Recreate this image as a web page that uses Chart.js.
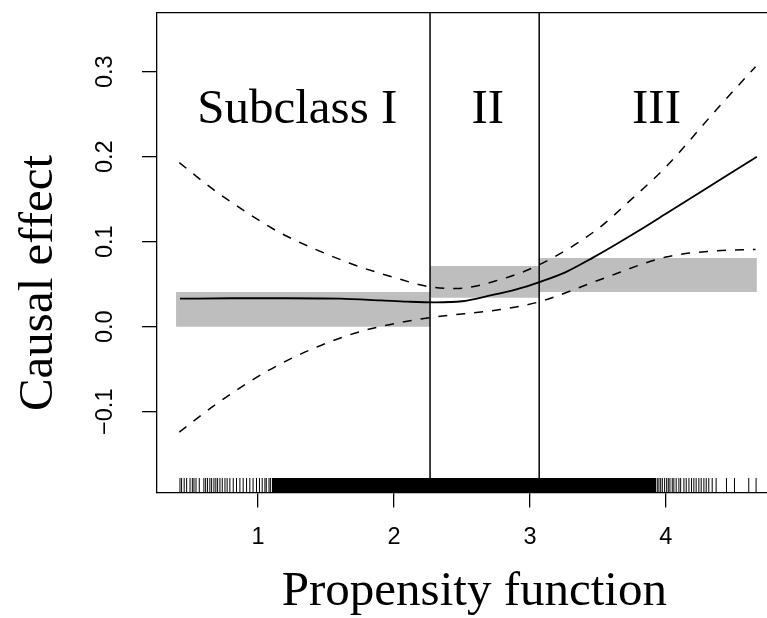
<!DOCTYPE html>
<html>
<head>
<meta charset="utf-8">
<script src="https://cdn.jsdelivr.net/npm/chart.js@4/dist/chart.umd.min.js"></script>
<style>
  html, body { margin: 0; padding: 0; background: #fff; overflow: hidden; }
  #wrap { width: 800px; height: 618px; }
</style>
</head>
<body>
<div id="wrap"><canvas id="chart" width="800" height="618"></canvas></div>
<script>
// axis ticks
const xTicks = [1, 2, 3, 4];
const yTicks = [-0.1, 0, 0.1, 0.2, 0.3];
const yTickLabels = ['\u22120.1', '0.0', '0.1', '0.2', '0.3'];

// fitted causal effect curve
const fitX = [0.425, 0.8, 1.2, 1.6, 1.9, 2.1, 2.3, 2.5, 2.7, 2.9, 3.07, 3.26, 3.46, 3.8, 4.0, 4.3, 4.67];
const fitY = [0.033, 0.0335, 0.0335, 0.033, 0.031, 0.0295, 0.0287, 0.030, 0.0365, 0.044, 0.0526, 0.064, 0.081, 0.113, 0.133, 0.163, 0.200];

// upper / lower confidence bounds (dashed)
const upperX = [0.42, 0.7, 1.08, 1.18, 1.67, 2.0, 2.26, 2.46, 2.77, 3.07, 3.49, 3.74, 4.0, 4.37, 4.66];
const upperY = [0.193, 0.158, 0.118, 0.109, 0.075, 0.058, 0.047, 0.045, 0.055, 0.073, 0.114, 0.149, 0.188, 0.255, 0.306];
const lowerX = [0.42, 0.7, 1.08, 1.43, 1.79, 2.26, 2.77, 3.07, 3.51, 4.0, 4.35, 4.66];
const lowerY = [-0.124, -0.09, -0.051, -0.024, -0.004, 0.0106, 0.020, 0.0294, 0.055, 0.082, 0.089, 0.091];

// subclass boundaries and within-subclass effect bands (grey)
const cutPoints = [2.265, 3.068];
const bandStart = [0.396, 2.265, 3.068];
const bandEnd = [2.265, 3.068, 4.67];
const bandLow = [0.0, 0.034, 0.041];
const bandHigh = [0.041, 0.0714, 0.081];

const regionLabels = ['Subclass I', 'II', 'III'];
const regionLabelX = [1.288, 2.690, 3.931];
const regionLabelY = 0.2396;

// rug of propensity values
const rugTicks = [0.425, 0.437, 0.456, 0.474, 0.499, 0.516, 0.528, 0.543, 0.567, 0.601, 0.614, 0.628,
  0.645, 0.658, 0.675, 0.689, 0.702, 0.719, 0.736, 0.756, 0.772, 0.792, 0.817, 0.841, 0.866, 0.890,
  0.915, 0.939, 0.963, 0.988, 1.01, 1.03, 1.05, 1.06, 1.08, 1.09,
  3.937, 3.949, 3.962, 3.974, 3.991, 4.006, 4.018, 4.030, 4.047, 4.059, 4.076, 4.096, 4.109, 4.133,
  4.150, 4.170, 4.189, 4.206, 4.223, 4.243, 4.260, 4.280, 4.297, 4.316, 4.341, 4.370, 4.446, 4.505,
  4.610, 4.664];
const rugDense = [1.10, 3.93];

const yMin = -0.195, yMax = 0.3697;
const xMin = 0.256, xMax = 4.926;
const rugTop = -0.178;

const pts = (xs, ys) => xs.map((x, i) => ({ x, y: ys[i] }));

const regionText = {
  id: 'regionText',
  afterDatasetsDraw(chart) {
    const { ctx, scales: { x, y } } = chart;
    ctx.save();
    ctx.fillStyle = '#000';
    ctx.font = '49px "Liberation Serif"';
    ctx.textAlign = 'center';
    ctx.textBaseline = 'alphabetic';
    regionLabels.forEach((t, i) => {
      ctx.fillText(t, x.getPixelForValue(regionLabelX[i]), y.getPixelForValue(regionLabelY));
    });
    // y axis title
    ctx.translate(52, 283);
    ctx.rotate(-Math.PI / 2);
    ctx.fillText('Causal effect', 0, 0);
    ctx.restore();
  }
};

const lineStyle = { pointRadius: 0, fill: false, cubicInterpolationMode: 'monotone' };

const datasets = [
  { ...lineStyle, data: pts(fitX, fitY), borderColor: '#000', borderWidth: 1.8 },
  { ...lineStyle, data: pts(upperX, upperY), borderColor: '#000', borderWidth: 1.5, borderDash: [9, 9] },
  { ...lineStyle, data: pts(lowerX, lowerY), borderColor: '#000', borderWidth: 1.5, borderDash: [9, 9] },
  ...cutPoints.map(c => ({
    data: [{ x: c, y: yMin }, { x: c, y: yMax }],
    borderColor: '#000', borderWidth: 1.5, pointRadius: 0, fill: false
  })),
  {
    data: rugTicks.map(v => ({ x: v, y: (rugTop + yMin) / 2 })),
    showLine: false, pointStyle: 'line', pointRotation: 90, pointRadius: 7.3,
    pointBorderWidth: 1, pointBorderColor: '#000'
  },
  {
    data: rugDense.map(v => ({ x: v, y: rugTop })),
    borderWidth: 0, pointRadius: 0, fill: { value: yMin }, backgroundColor: '#000'
  },
  ...bandStart.map((s, i) => ({
    data: [{ x: s, y: bandHigh[i] }, { x: bandEnd[i], y: bandHigh[i] }],
    borderWidth: 0, pointRadius: 0, fill: { value: bandLow[i] }, backgroundColor: '#bebebe'
  }))
];

Chart.defaults.font.family = '"Liberation Sans", Arial, sans-serif';
Chart.defaults.color = '#000';

const tickFont = { family: '"Liberation Sans", Arial, sans-serif', size: 23.5 };

new Chart(document.getElementById('chart').getContext('2d'), {
  type: 'line',
  data: { datasets },
  plugins: [regionText],
  options: {
    responsive: false,
    animation: false,
    layout: { padding: { top: 12.5, right: 7, left: 0, bottom: 0 } },
    plugins: { legend: { display: false }, tooltip: { enabled: false } },
    scales: {
      x: {
        type: 'linear', position: 'bottom', min: xMin, max: xMax,
        afterBuildTicks: s => { s.ticks = xTicks.map(v => ({ value: v })); },
        afterFit: s => { s.height = 125.5; s.paddingLeft = 0; s.paddingRight = 0; },
        ticks: { font: tickFont, padding: 16, maxRotation: 0, color: '#000' },
        grid: { drawOnChartArea: false, drawTicks: true, tickLength: 15, color: '#000', lineWidth: 1.3 },
        border: { display: true, color: '#000', width: 1.3 },
        title: {
          display: true, text: 'Propensity function', color: '#000',
          font: { family: '"Liberation Serif"', size: 49, lineHeight: 1 },
          padding: { top: 0, bottom: 1 }
        }
      },
      x2: {
        type: 'linear', position: 'top', min: xMin, max: xMax,
        afterFit: s => { s.height = 0; s.paddingLeft = 0; s.paddingRight = 0; },
        ticks: { display: false },
        grid: { drawOnChartArea: false, drawTicks: false },
        border: { display: true, color: '#000', width: 1.3 }
      },
      y: {
        type: 'linear', position: 'left', min: yMin, max: yMax,
        afterBuildTicks: s => { s.ticks = yTicks.map(v => ({ value: v })); },
        afterFit: s => { s.width = 157; s.paddingTop = 0; s.paddingBottom = 0; },
        ticks: {
          font: tickFont, padding: 13, minRotation: 90, maxRotation: 90,
          crossAlign: 'center', color: '#000',
          callback: (v, i) => yTickLabels[i]
        },
        grid: { drawOnChartArea: false, drawTicks: true, tickLength: 15, color: '#000', lineWidth: 1.3 },
        border: { display: true, color: '#000', width: 1.3 }
      }
    }
  }
});
</script>
</body>
</html>
